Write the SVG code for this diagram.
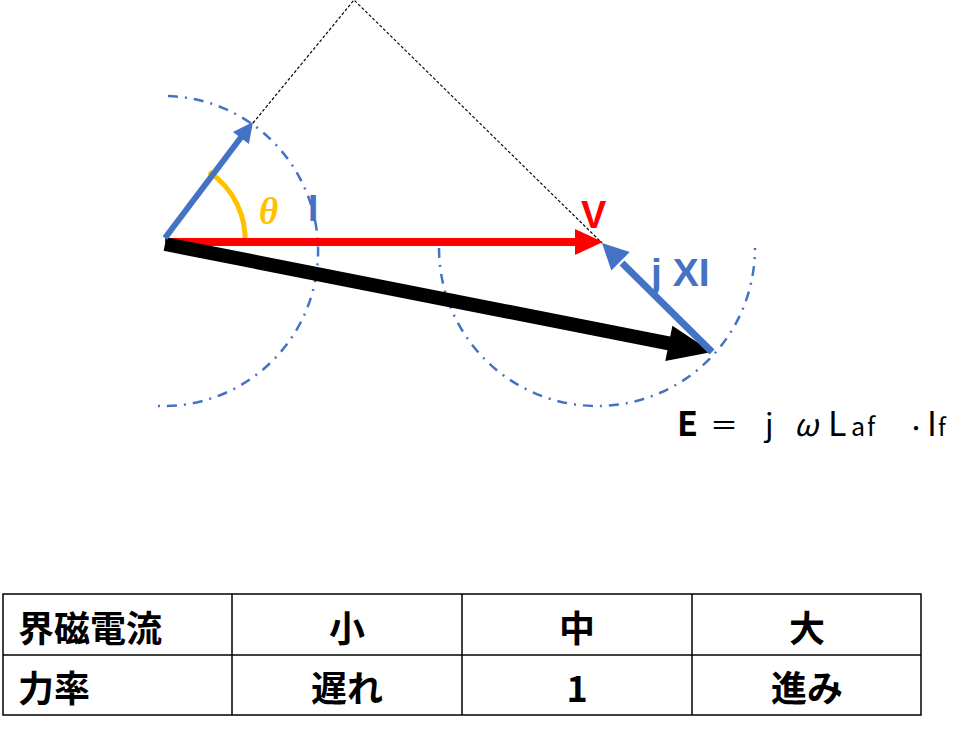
<svg xmlns="http://www.w3.org/2000/svg" width="974" height="731" viewBox="0 0 974 731">
<style>
.arc{fill:none;stroke:#4472C4;stroke-width:2.5;stroke-dasharray:10 7 2 7}
.lbl{font-family:"Liberation Sans","Noto Sans",sans-serif;font-weight:bold}
.tb{font-family:"Noto Sans CJK JP","Noto Sans",sans-serif;font-weight:bold;font-size:36px;fill:#000}
.cell{fill:none;stroke:#000;stroke-width:1.5}
.f{font-family:"Noto Sans CJK JP","Noto Sans",sans-serif;fill:#000}
</style>
<rect width="974" height="731" fill="#fff"/>
<g id="guides">
<polyline points="253,123 354,0 602,243" fill="none" stroke="#000" stroke-width="1.2" stroke-dasharray="3 2"/>
<path class="arc" d="M168,96 A155,155 0 1 1 158,406"/>
<path class="arc" d="M439,248 A158,158 0 0 0 755,248"/>
</g>
<g id="angle">
<path d="M209,172 A81,81 0 0 1 245,245" fill="none" stroke="#FFC000" stroke-width="5"/>
</g>
<g id="connectors">
<g id="vec-V">
<line x1="165" y1="242" x2="578" y2="242" stroke="#FF0000" stroke-width="8"/>
<polygon points="575,229 603,242 575,255" fill="#FF0000"/>
</g>
<g id="vec-E">
<line x1="165" y1="244" x2="670" y2="343.6" stroke="#000" stroke-width="14"/>
<polygon points="665.3,361 712,352 672.4,325.8" fill="#000"/>
</g>
<g id="vec-jXI">
<line x1="712" y1="352" x2="622" y2="263" stroke="#4472C4" stroke-width="7"/>
<polygon points="629.7,252.1 602,243 611.3,270.5" fill="#4472C4"/>
</g>
<g id="vec-I">
<line x1="165" y1="238" x2="242" y2="136" stroke="#4472C4" stroke-width="6"/>
<polygon points="248.9,143.9 253,122 232.9,131.9" fill="#4472C4"/>
</g>
</g>
<g id="labels">
<text x="259" y="224" font-family="Liberation Serif,serif" font-style="italic" font-weight="bold" font-size="37" fill="#FFC000">θ</text>
<text class="lbl" x="308" y="221" font-size="37" fill="#4472C4">I</text>
<text class="lbl" x="581" y="228" font-size="38" fill="#FF0000">V</text>
<text class="lbl" x="651" y="286" font-size="39" fill="#4472C4">j XI</text>
</g>
<g id="formula">
<text class="f" y="436" font-size="32"><tspan x="677" font-weight="bold" font-size="34">E</tspan><tspan x="710" font-size="28">＝</tspan><tspan x="765" font-size="31">j</tspan><tspan x="794" font-size="31" font-style="italic">ω</tspan><tspan x="828" font-size="34">L</tspan><tspan x="851" font-size="25" letter-spacing="2">af</tspan><tspan x="906" font-size="20">・</tspan><tspan x="927" font-size="34">I</tspan><tspan x="938" font-size="24">f</tspan></text>
</g>
<g id="table">
<rect class="cell" x="3" y="594" width="918" height="121"/>
<line class="cell" x1="3" y1="655" x2="921" y2="655"/>
<line class="cell" x1="232" y1="594" x2="232" y2="715"/>
<line class="cell" x1="462" y1="594" x2="462" y2="715"/>
<line class="cell" x1="692" y1="594" x2="692" y2="715"/>
<text class="tb" x="18" y="626" dominant-baseline="central">界磁電流</text>
<text class="tb" x="347" y="626" text-anchor="middle" dominant-baseline="central">小</text>
<text class="tb" x="577" y="626" text-anchor="middle" dominant-baseline="central">中</text>
<text class="tb" x="807" y="626" text-anchor="middle" dominant-baseline="central">大</text>
<text class="tb" x="18" y="686" dominant-baseline="central">力率</text>
<text class="tb" x="347" y="686" text-anchor="middle" dominant-baseline="central">遅れ</text>
<text class="tb" x="577" y="686" text-anchor="middle" dominant-baseline="central">1</text>
<text class="tb" x="807" y="686" text-anchor="middle" dominant-baseline="central">進み</text>
</g>
</svg>
